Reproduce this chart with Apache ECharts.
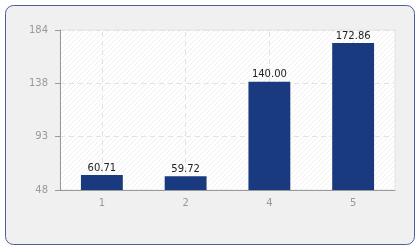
<!DOCTYPE html>
<html><head><meta charset="utf-8">
<script src="https://cdn.jsdelivr.net/npm/echarts@6/dist/echarts.min.js"></script>
<style>html,body{margin:0;padding:0;background:#fff}#c{width:420px;height:250px}</style>
</head><body><div id="c"></div>
<script>
const categories = ['1', '2', '4', '5'];
const values = [60.71, 59.72, 140.00, 172.86];
const yMin = 48, yMax = 184;

const pc = document.createElement('canvas');
pc.width = 5; pc.height = 5;
const px = pc.getContext('2d');
px.fillStyle = '#ffffff'; px.fillRect(0, 0, 5, 5);
px.strokeStyle = '#efefef'; px.lineWidth = 1;
px.beginPath(); px.moveTo(-1, 6); px.lineTo(6, -1); px.stroke();

const chart = echarts.init(document.getElementById('c'), null, {renderer: 'canvas'});
const font = 'DejaVu Sans';
chart.setOption({
  animation: false,
  backgroundColor: '#ffffff',
  graphic: [{
    type: 'rect', z: -10, silent: true,
    shape: {x: 5.5, y: 5.5, width: 409, height: 239, r: 8},
    style: {fill: '#f0f0f0', stroke: '#4d5d99', lineWidth: 1}
  }],
  grid: {left: 60, right: 25, top: 30, bottom: 60, show: true,
         backgroundColor: {image: pc, repeat: 'repeat'}, borderColor: '#e4e4e4', borderWidth: 1},
  xAxis: {
    type: 'category', data: categories,
    axisLine: {lineStyle: {color: '#999999'}},
    axisTick: {alignWithLabel: true, length: 5, lineStyle: {color: '#999999'}},
    axisLabel: {color: '#999999', fontFamily: font, fontSize: 10, margin: 8},
    splitLine: {show: false}
  },
  yAxis: {
    type: 'value', min: yMin, max: yMax, interval: (yMax - yMin) / 3,
    axisLine: {show: true, lineStyle: {color: '#999999'}},
    axisTick: {show: true, length: 5, lineStyle: {color: '#999999'}},
    axisLabel: {color: '#999999', fontFamily: font, fontSize: 10, margin: 12,
                formatter: v => String(Math.floor(v + 1e-6))},
    splitLine: {show: true, lineStyle: {color: '#e2e2e2', type: [5, 4]}}
  },
  series: [{
    type: 'bar', data: values, barWidth: '50%',
    itemStyle: {color: '#1a3a80'},
    label: {show: true, position: 'top', distance: 2, color: '#222222', fontFamily: font, fontSize: 10,
            formatter: p => p.value.toFixed(2)},
    markLine: {
      silent: true, symbol: 'none', z: 0,
      label: {show: false},
      lineStyle: {color: '#e2e2e2', type: [5, 4], width: 1},
      data: categories.map(c => ({xAxis: c}))
    }
  }]
});
</script></body></html>
